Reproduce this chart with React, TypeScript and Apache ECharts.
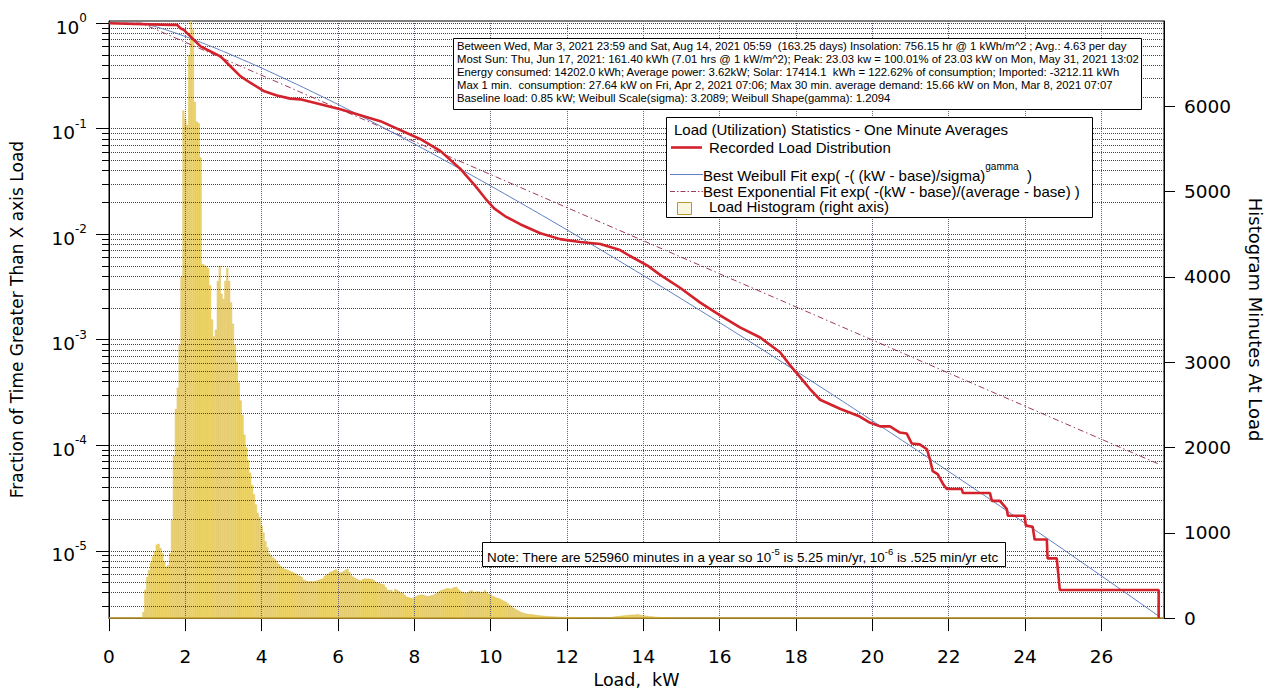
import React, { useEffect, useRef } from "react";
import * as echarts from "echarts";

const FONT = "'DejaVu Sans', sans-serif";
const BOX_FONT = "'Liberation Sans', Arial, sans-serif";

// ---- axes ----
const xMax = 27.64;
const xTickValues = [0, 2, 4, 6, 8, 10, 12, 14, 16, 18, 20, 22, 24, 26];
const fractionMin = 2.3e-6;
const fractionMax = 1.05;
const decadeExponents = [-5, -4, -3, -2, -1, 0];
const histogramTicks = [0, 1000, 2000, 3000, 4000, 5000, 6000];
const histogramMax = 7000;

// ---- histogram (minutes per 0.05 kW bin), bin centres from histStart ----
const histStart = 0.9;
const histStep = 0.05;
const histCounts = [
  70, 330, 480, 560, 650, 720, 780, 860, 870, 820,
  760, 660, 600, 620, 760, 1150, 1900, 2450, 2700, 3200,
  4000, 5950, 5850, 5780, 6600, 7000, 6900, 6050, 5820, 5800,
  5400, 4150, 4140, 4120, 4100, 3900, 3500, 3300, 3380, 3950,
  4130, 3800, 3740, 3950, 4100, 3950, 3700, 3450, 3200, 3000,
  2760, 2550, 2380, 2150, 2000, 1850, 1700, 1560, 1450, 1330,
  1230, 1180, 1080, 1000, 900, 830, 760, 730, 710, 690,
  670, 630, 610, 590, 575, 570, 560, 550, 540, 530,
  520, 500, 495, 480, 450, 440, 432, 430, 432, 428,
  435, 440, 450, 455, 462, 490, 505, 520, 540, 548,
  560, 570, 545, 530, 540, 550, 565, 575, 540, 500,
  485, 470, 460, 445, 440, 455, 462, 460, 462, 458,
  455, 440, 420, 410, 405, 400, 392, 360, 330, 326,
  326, 306, 340, 330, 314, 300, 295, 270, 250, 242,
  238, 232, 245, 255, 266, 270, 275, 268, 262, 256,
  260, 266, 270, 285, 295, 310, 325, 332, 340, 350,
  348, 340, 352, 360, 365, 340, 320, 308, 295, 290,
  300, 315, 325, 308, 305, 312, 310, 300, 305, 325,
  300, 285, 275, 262, 250, 240, 232, 225, 212, 200,
  190, 170, 150, 135, 120, 105, 92, 80, 70, 62,
  55, 50, 46, 44, 42, 40, 36, 32, 30, 28,
  26, 24, 22, 20, 19, 18, 17, 16, 15, 15,
  14, 14, 14, 12, 12, 10, 10, 9, 8, 10,
  8, 6, 6, 5, 4, 4, 3, 3, 2, 2,
  2, 3, 4, 6, 8, 10, 14, 18, 20, 22,
  26, 28, 30, 32, 35, 38, 40, 38, 42, 45,
  40, 36, 32, 28, 26, 22, 20, 18, 16, 14,
  12, 10, 9, 8, 6, 5, 4, 3, 2, 2,
  2, 1, 1,
];

// ---- fraction of time greater than load: [kW, fraction] ----
const recordedLoad: [number, number][] = [
  [0, 1], [1.61, 0.964], [1.785, 0.964], [1.87, 0.897], [1.96, 0.865], [2.18, 0.723],
  [2.22, 0.697], [2.4, 0.603], [2.57, 0.561], [2.92, 0.485], [3.18, 0.391], [3.44, 0.315],
  [3.7, 0.273], [4.05, 0.228], [4.4, 0.207], [4.75, 0.193], [5.01, 0.19], [6.06, 0.153],
  [7.11, 0.118], [8.15, 0.08], [8.68, 0.0617], [9.2, 0.0418], [9.59, 0.0289], [9.86, 0.0218],
  [10.09, 0.0176], [10.38, 0.0148], [10.77, 0.01245], [11.3, 0.01023], [11.82, 0.00899],
  [12.34, 0.00843], [12.87, 0.00807], [13.39, 0.00708], [13.65, 0.00622], [14.12, 0.00501],
  [14.44, 0.00412], [14.96, 0.00311], [15.49, 0.00225], [16.01, 0.0017], [16.53, 0.00131],
  [17.06, 0.00105], [17.58, 0.000762], [17.84, 0.000575], [18.1, 0.000445], [18.36, 0.000343],
  [18.63, 0.00027], [19.15, 0.000222], [19.67, 0.000187], [19.93, 0.000164], [20.2, 0.000151],
  [20.46, 0.000151], [20.72, 0.000132], [20.9, 0.000129], [21.03, 0.000104], [21.24, 0.000102],
  [21.43, 0.0000916], [21.5, 0.0000753], [21.58, 0.0000569], [21.71, 0.0000533], [21.85, 0.000043],
  [21.95, 0.0000385], [22.34, 0.0000385], [22.37, 0.0000353], [23.08, 0.0000353], [23.13, 0.0000297],
  [23.34, 0.0000297], [23.52, 0.000025], [23.55, 0.0000215], [23.99, 0.0000215], [24.02, 0.0000173],
  [24.2, 0.0000169], [24.25, 0.0000128], [24.57, 0.0000128], [24.59, 0.00000847], [24.83, 0.00000847],
  [24.91, 0.00000425], [27.5, 0.00000425], [27.5, 0.0000023],
];

const weibullFit: [number, number][] = [
  [0, 1], [0.85, 1], [1, 0.9757], [1.5, 0.865], [2, 0.7489], [2.5, 0.6392], [3, 0.5401],
  [4, 0.3761], [5, 0.2554], [6, 0.17], [7, 0.1112], [8, 0.07171], [9, 0.04562], [10, 0.0287],
  [11, 0.01786], [12, 0.011], [13, 0.006713], [14, 0.004062], [15, 0.002438], [16, 0.001453],
  [17, 0.0008593], [18, 0.0005046], [19, 0.0002944], [20, 0.0001708], [21, 0.00009845],
  [22, 0.00005641], [23, 0.00003217], [24, 0.00001824], [25, 0.00001029], [26, 0.000005774],
  [27, 0.000003225], [27.5, 0.0000024],
];

const exponentialFit: [number, number][] = [
  [0, 1], [0.85, 1], [5, 0.2236], [10, 0.03677], [15, 0.006048], [20, 0.000994],
  [25, 0.0001636], [27.5, 0.00006637],
];

const statsLines = [
  "Between Wed, Mar 3, 2021 23:59 and Sat, Aug 14, 2021 05:59  (163.25 days) Insolation: 756.15 hr @ 1 kWh/m^2 ; Avg.: 4.63 per day",
  "Most Sun: Thu, Jun 17, 2021: 161.40 kWh (7.01 hrs @ 1 kW/m^2); Peak: 23.03 kw = 100.01% of 23.03 kW on Mon, May 31, 2021 13:02",
  "Energy consumed: 14202.0 kWh; Average power: 3.62kW; Solar: 17414.1  kWh = 122.62% of consumption; Imported: -3212.11 kWh",
  "Max 1 min.  consumption: 27.64 kW on Fri, Apr 2, 2021 07:06; Max 30 min. average demand: 15.66 kW on Mon, Mar 8, 2021 07:07",
  "Baseline load: 0.85 kW; Weibull Scale(sigma): 3.2089; Weibull Shape(gamma): 1.2094",
];

const legendTitle = "Load (Utilization) Statistics - One Minute Averages";
const legendRecorded = "Recorded Load Distribution";
const legendWeibull = "Best Weibull Fit exp( -( (kW - base)/sigma)";
const legendExp = "Best Exponential Fit exp( -(kW - base)/(average - base) )";
const legendHist = "Load Histogram (right axis)";

const RED = "#d3222b";
const BLUE = "#5f7fc0";
const PURPLE = "#9e3a5c";

export default function App() {
  const ref = useRef<HTMLDivElement>(null);

  useEffect(() => {
    document.body.style.margin = "0";
    if (!ref.current) return;
    const chart = echarts.init(ref.current, undefined, { renderer: "svg" });

    const lg = (v: number) => Math.log10(v);
    const yMin = lg(fractionMin);
    const yMax = lg(fractionMax);
    const minorValues: number[] = [];
    for (let n = -6; n <= 0; n++) {
      for (let k = 1; k <= 9; k++) {
        const v = n + Math.log10(k);
        if (v >= yMin && v <= yMax) minorValues.push(v);
      }
    }
    const toLog = (arr: [number, number][]) => arr.map(([x, f]) => [x, lg(f)]);
    const histData = histCounts.map((c, i) => [+(histStart + i * histStep).toFixed(2), c]);

    const axisFont = { fontFamily: FONT, fontSize: 18.5, color: "#000" };
    const nameFont = { fontFamily: FONT, fontSize: 17, color: "#000" };
    const boxText = (x: number, y: number, text: string, size: number) => ({
      type: "text",
      x,
      y,
      z: 101,
      style: { text, font: `${size}px ${BOX_FONT}`, fill: "#000", align: "left", verticalAlign: "middle" },
    });

    const option: any = {
      animation: false,
      grid: {
        left: 108, right: 107, top: 21, bottom: 71,
        show: true, borderColor: "#000", borderWidth: 1, backgroundColor: "transparent",
      },
      xAxis: {
        type: "value", min: 0, max: xMax, interval: 2, z: 3,
        axisLine: { show: true, onZero: false, lineStyle: { color: "#000", width: 1 } },
        axisTick: { show: true, length: 13, customValues: xTickValues, lineStyle: { color: "#000" } },
        axisLabel: { ...axisFont, margin: 29, customValues: xTickValues },
        splitLine: { show: true, lineStyle: { color: "#667", type: "dotted", width: 1 } },
        name: "Load,  kW", nameLocation: "middle", nameGap: 49,
        nameTextStyle: { ...nameFont, fontSize: 17.5 },
      },
      yAxis: [
        {
          type: "value", position: "left", min: yMin, max: yMax, z: 3,
          axisLine: { show: true, lineStyle: { color: "#000", width: 1 } },
          axisTick: { show: true, length: 13, customValues: decadeExponents, lineStyle: { color: "#000" } },
          axisLabel: {
            customValues: decadeExponents, margin: 22,
            formatter: (v: number) => `{b|10}{s|${Math.round(v)}}`,
            rich: {
              b: { fontFamily: FONT, fontSize: 18.5, color: "#000", lineHeight: 22, padding: [8, 0, 0, 0] },
              s: { fontFamily: FONT, fontSize: 12, color: "#000", lineHeight: 14, verticalAlign: "top" },
            },
          },
          splitLine: { show: false },
          name: "Fraction of Time Greater Than X axis Load", nameLocation: "middle", nameGap: 84,
          nameTextStyle: { ...nameFont },
        },
        {
          type: "value", position: "left", min: yMin, max: yMax, z: 3,
          axisLine: { show: false },
          axisTick: { show: true, length: 7, customValues: minorValues, lineStyle: { color: "#000" } },
          axisLabel: { show: false, customValues: minorValues },
          splitLine: { show: true, lineStyle: { color: "#444", type: "dotted", width: 1 } },
        },
        {
          type: "value", position: "right", min: 0, max: histogramMax, interval: 1000, z: 3,
          axisLine: { show: true, lineStyle: { color: "#000", width: 1 } },
          axisTick: { show: true, length: 11, customValues: histogramTicks, lineStyle: { color: "#000" } },
          axisLabel: { ...axisFont, margin: 20, customValues: histogramTicks, formatter: (v: number) => String(Math.round(v)) },
          splitLine: { show: false },
          name: "Histogram Minutes At Load", nameLocation: "middle", nameGap: 82, nameRotate: -90,
          nameTextStyle: { ...nameFont, fontSize: 18 },
        },
      ],
      series: [
        {
          name: "Load Histogram (right axis)", type: "bar", xAxisIndex: 0, yAxisIndex: 2,
          data: histData, barWidth: 1.9, z: 2,
          itemStyle: { color: "#f3dc72", borderColor: "#cfa628", borderWidth: 0.35 },
          markLine: {
            silent: true, symbol: ["none", "none"], label: { show: false },
            lineStyle: { color: "#c9a630", width: 1.5, type: "solid" },
            data: [{ yAxis: 0 }],
          },
        },
        {
          name: "Best Exponential Fit", type: "line", yAxisIndex: 0, data: toLog(exponentialFit),
          showSymbol: false, z: 5,
          lineStyle: { color: PURPLE, width: 1, type: [6, 3, 1.5, 3] },
        },
        {
          name: "Best Weibull Fit", type: "line", yAxisIndex: 0, data: toLog(weibullFit),
          showSymbol: false, smooth: 0.2, z: 6,
          lineStyle: { color: BLUE, width: 1 },
        },
        {
          name: "Recorded Load Distribution", type: "line", yAxisIndex: 0, data: toLog(recordedLoad),
          showSymbol: false, z: 7,
          lineStyle: { color: RED, width: 2.6 },
        },
      ],
      graphic: [
        // stats box
        { type: "rect", z: 100, shape: { x: 453.5, y: 38.5, width: 688, height: 71 }, style: { fill: "#fff", stroke: "#000", lineWidth: 1 } },
        ...statsLines.map((t, i) => boxText(457, 46 + i * 13, t, 11.3)),
        // legend box
        { type: "rect", z: 100, shape: { x: 666.5, y: 117.5, width: 426, height: 100 }, style: { fill: "#fff", stroke: "#000", lineWidth: 1 } },
        boxText(674, 129, legendTitle, 15),
        { type: "line", z: 101, shape: { x1: 671, y1: 147.5, x2: 702, y2: 147.5 }, style: { stroke: RED, lineWidth: 2.6 } },
        boxText(709, 147, legendRecorded, 15),
        { type: "line", z: 101, shape: { x1: 670, y1: 174.5, x2: 703, y2: 174.5 }, style: { stroke: BLUE, lineWidth: 1 } },
        {
          type: "text", x: 703, y: 170, z: 101,
          style: {
            text: `{a|${legendWeibull}}{s|gamma}{a|  )}`,
            align: "left", verticalAlign: "middle",
            rich: {
              a: { font: `15px ${BOX_FONT}`, fill: "#000", lineHeight: 18, padding: [10, 0, 0, 0] },
              s: { font: `10px ${BOX_FONT}`, fill: "#000", lineHeight: 12, verticalAlign: "top" },
            },
          },
        },
        { type: "line", z: 101, shape: { x1: 670, y1: 191.5, x2: 703, y2: 191.5 }, style: { stroke: PURPLE, lineWidth: 1, lineDash: [5, 2, 1.5, 2] } },
        boxText(703, 191, legendExp, 15),
        { type: "rect", z: 101, shape: { x: 677.5, y: 202.5, width: 14, height: 12 }, style: { fill: "#fbf6df", stroke: "#b8962a", lineWidth: 1 } },
        boxText(709, 206, legendHist, 15),
        // note box
        { type: "rect", z: 100, shape: { x: 482.5, y: 542.5, width: 523, height: 24 }, style: { fill: "#fff", stroke: "#000", lineWidth: 1 } },
        {
          type: "text", x: 487, y: 554, z: 101,
          style: {
            text: "{a|Note: There are 525960 minutes in a year so 10}{s|-5}{a| is 5.25 min/yr, 10}{s|-6}{a| is .525 min/yr etc}",
            align: "left", verticalAlign: "middle",
            rich: {
              a: { font: `13.4px ${BOX_FONT}`, fill: "#000", lineHeight: 15, padding: [6, 0, 0, 0] },
              s: { font: `9.5px ${BOX_FONT}`, fill: "#000", lineHeight: 10, verticalAlign: "top" },
            },
          },
        },
      ],
    };

    chart.setOption(option);
    return () => chart.dispose();
  }, []);

  return <div ref={ref} style={{ width: 1272, height: 694 }} />;
}
